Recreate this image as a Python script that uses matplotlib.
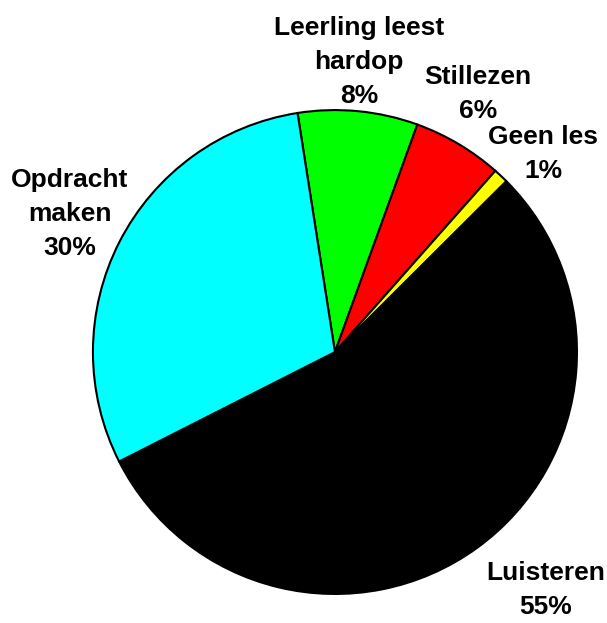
import matplotlib
matplotlib.use("Agg")
import matplotlib.pyplot as plt

# Gegevens (volgorde met de klok mee, beginnend bovenaan)
categorieen = ["Leerling leest\nhardop", "Stillezen", "Geen les", "Luisteren", "Opdracht\nmaken"]
percentages = [8, 6, 1, 55, 30]
kleuren = ["#00ff00", "#ff0000", "#ffff00", "#000000", "#00ffff"]

# Plaats van de labels (data-coördinaten, straal = 1)
label_pos = [(0.10, 1.21), (0.59, 1.075), (0.86, 0.83), (0.87, -0.975), (-1.095, 0.58)]

plt.rcParams["font.family"] = ["Liberation Sans", "DejaVu Sans"]

fig = plt.figure(figsize=(6.07, 6.23), dpi=100)
ax = fig.add_axes([0, 0, 1, 1])

ax.pie(
    percentages,
    colors=kleuren,
    startangle=98.9,
    counterclock=False,
    radius=1,
    wedgeprops=dict(edgecolor="black", linewidth=1.5),
)

regelafstand = 24.5  # punten tussen twee regels
for naam, pct, (x, y) in zip(categorieen, percentages, label_pos):
    regels = f"{naam}\n{pct}%".split("\n")
    n = len(regels)
    for i, regel in enumerate(regels):
        dy = ((n - 1) / 2 - i) * regelafstand
        ax.annotate(regel, (x, y), xytext=(0, dy), textcoords="offset points",
                    ha="center", va="center_baseline",
                    fontsize=19, fontweight="bold")

ax.set_xlim(-1.384, 1.124)
ax.set_ylim(-1.12, 1.455)
ax.set_aspect("auto")
ax.axis("off")

fig.savefig("out.png", dpi=100, facecolor="white")
